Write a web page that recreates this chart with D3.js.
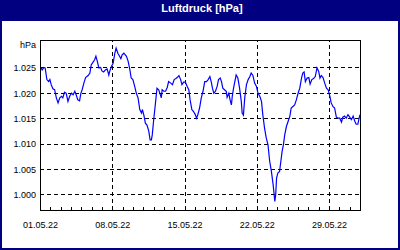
<!DOCTYPE html>
<html>
<head>
<meta charset="utf-8">
<script src="https://cdn.jsdelivr.net/npm/d3@7"></script>
<style>
  body { margin: 0; background: #fff; }
  svg { display: block; font-family: "Liberation Sans", Arial, sans-serif; }
</style>
</head>
<body>
<div id="chart"></div>
<script>
// hours since 01.05.22 00:00 and air pressure in hPa
var hours = [3,5,9,12,16,20,23,26,30,34,38,42,46,50,53,57,61,65,69,73,77,81,84,88,92,95,98,102,106,112,
  116,119,123,127,130,133,137,141,144,148,152,156,160,162,166,170,174,177,181,185,188,191,195,201,205,209,212,216,220,224,
  228,232,236,238,242,245,249,253,256,259,261,264,268,272,276,280,282,284,288,292,296,299,304,308,312,316,319,323,327,330,
  334,338,342,346,349,353,357,361,364,367,371,375,379,383,387,391,395,398,401,404,408,412,415,419,422,425,429,433,435,439,
  442,445,447,450,453,456,460,464,468,470,473,476,480,484,488,491,495,499,503,507,511,515,518,522,526,530,534,538,542,546,
  548,550,553,557,560,563,566,569,573,577,581,584,588,592,596,600,604,608,611,614,617,621,625,628,632,636,640,644,648,651,
  654,658,662,666,670,674,677,681,685,689,693,697,701,704,708,712,716,720,724,728,732,735,739,742,744];

var pressure = [1024.9,1024.5,1025.0,1024.9,1022.6,1022.2,1022.6,1021.6,1020.8,1020.6,1019.0,1018.0,1019.0,1019.3,1019.0,1020.1,1019.9,1018.3,1019.3,1019.9,
  1019.6,1020.3,1019.6,1018.6,1018.4,1019.9,1020.6,1021.9,1023.0,1023.4,1023.9,1025.5,1026.0,1026.5,1027.2,1026.3,1024.9,1025.0,1024.3,1024.1,
  1024.5,1024.7,1023.5,1024.2,1025.2,1025.8,1027.8,1028.8,1027.8,1027.2,1026.7,1027.5,1027.8,1027.2,1026.2,1024.5,1022.9,1022.6,1021.3,1019.9,
  1019.0,1016.7,1016.0,1016.7,1015.4,1014.0,1013.6,1012.4,1010.7,1010.7,1011.7,1014.4,1017.6,1020.9,1020.6,1019.6,1019.0,1020.6,1020.3,1020.3,
  1021.1,1022.2,1021.9,1021.6,1022.6,1022.8,1023.0,1023.4,1022.6,1021.6,1022.1,1022.1,1021.3,1020.6,1018.6,1016.7,1016.3,1015.7,1015.0,1015.7,
  1017.0,1019.0,1020.3,1022.2,1022.2,1022.6,1023.2,1022.2,1020.9,1019.9,1020.3,1021.3,1022.6,1022.9,1022.2,1020.9,1020.6,1020.3,1019.1,1019.9,
  1018.6,1017.6,1019.3,1020.9,1022.2,1023.5,1022.9,1020.9,1018.3,1016.0,1015.6,1019.0,1021.6,1022.6,1023.2,1023.9,1023.4,1021.9,1021.3,1019.9,
  1019.3,1018.3,1015.7,1013.1,1011.1,1009.8,1006.5,1004.5,1001.9,998.6,999.9,1003.2,1004.2,1004.5,1006.5,1008.5,1009.8,1011.7,1013.4,1014.4,
  1015.4,1017.0,1017.3,1017.6,1018.6,1019.9,1020.9,1022.9,1023.9,1024.1,1022.2,1022.9,1023.0,1021.7,1022.6,1022.8,1023.2,1024.9,1024.2,1022.9,
  1023.4,1023.0,1021.9,1020.9,1020.6,1019.3,1018.0,1017.3,1017.0,1015.2,1015.0,1015.0,1014.2,1015.2,1015.4,1015.0,1015.7,1015.2,1014.7,1015.4,
  1014.4,1013.8,1013.8,1015.0,1015.7];

var yTicks = [1000, 1005, 1010, 1015, 1020, 1025];
var yRange = [996.9, 1030.4];
var titleText = "Luftdruck [hPa]";
var unitText = "hPa";

var W = 400, H = 250;
var margin = {top: 40, right: 40, bottom: 40, left: 40},
    width = W - margin.left - margin.right,
    height = H - margin.top - margin.bottom;

var start = new Date(2022, 4, 1);
var end = new Date(2022, 5, 1);
var data = hours.map(function(h, i) {
  return { t: d3.timeHour.offset(start, h), v: pressure[i] };
});

var de = d3.formatLocale({decimal: ",", thousands: ".", grouping: [3], currency: ["", " €"]});
var fmtY = de.format(",d");

var root = d3.select("#chart").append("svg")
    .attr("width", W)
    .attr("height", H);

// window frame + title bar
root.append("rect")
  .attr("x", 1).attr("y", 1)
  .attr("width", W - 2).attr("height", H - 2)
  .attr("fill", "#fff")
  .attr("stroke", "#000080")
  .attr("stroke-width", 2);
root.append("rect")
  .attr("x", 0).attr("y", 0)
  .attr("width", W).attr("height", 21)
  .attr("fill", "#000080");
root.append("text")
  .attr("x", W / 2 + 2)
  .attr("y", 12)
  .attr("fill", "#fff")
  .style("font-size", "11px")
  .style("font-weight", "bold")
  .style("text-anchor", "middle")
  .text(titleText);

var svg = root.append("g")
  .attr("transform", "translate(" + margin.left + "," + margin.top + ")");

var x = d3.scaleTime().domain([start, end]).range([0, width]);
var y = d3.scaleLinear().domain(yRange).range([height, 0]);

// horizontal dashed grid + labels
var gy = svg.append("g")
  .call(d3.axisLeft(y).tickValues(yTicks).tickSize(-width).tickPadding(4).tickFormat(fmtY));
gy.select(".domain").remove();
gy.selectAll("line")
  .attr("stroke", "#000")
  .attr("stroke-dasharray", "4,3")
  .attr("shape-rendering", "crispEdges");
gy.selectAll("text")
  .attr("fill", "#000")
  .attr("dy", "0.36em")
  .style("font-size", "9px")
  .style("font-family", "Liberation Sans, Arial, sans-serif");

// vertical dashed grid + date labels, one a week (not at the closing edge)
var weeks = d3.timeDay.every(7).range(start, end);
var gx = svg.append("g")
  .attr("transform", "translate(0," + height + ")")
  .call(d3.axisBottom(x).tickValues(weeks).tickSize(-height).tickPadding(12)
    .tickFormat(d3.timeFormat("%d.%m.%y")));
gx.select(".domain").remove();
gx.selectAll("line")
  .attr("stroke", "#000")
  .attr("stroke-dasharray", "4,3")
  .attr("shape-rendering", "crispEdges");
gx.selectAll("text")
  .attr("fill", "#000")
  .style("font-size", "9px")
  .style("font-family", "Liberation Sans, Arial, sans-serif");

// small daily ticks on the bottom edge
var gm = svg.append("g")
  .attr("transform", "translate(0," + height + ")")
  .call(d3.axisBottom(x).tickValues(d3.timeDay.range(start, end)).tickSize(-3).tickFormat(""));
gm.select(".domain").remove();
gm.selectAll("line").attr("stroke", "#000").attr("shape-rendering", "crispEdges");

// plot frame
svg.append("rect")
  .attr("x", 0.5).attr("y", 0.5)
  .attr("width", width).attr("height", height)
  .attr("fill", "none")
  .attr("stroke", "#000")
  .attr("shape-rendering", "crispEdges");

// unit label
svg.append("text")
  .attr("x", -4)
  .attr("y", 8)
  .style("text-anchor", "end")
  .style("font-size", "9px")
  .text(unitText);

// the line
svg.append("path")
  .datum(data)
  .attr("fill", "none")
  .attr("stroke", "#0000ff")
  .attr("stroke-width", 1.2)
  .attr("d", d3.line()
    .x(function(d) { return x(d.t); })
    .y(function(d) { return y(d.v); }));
</script>
</body>
</html>
